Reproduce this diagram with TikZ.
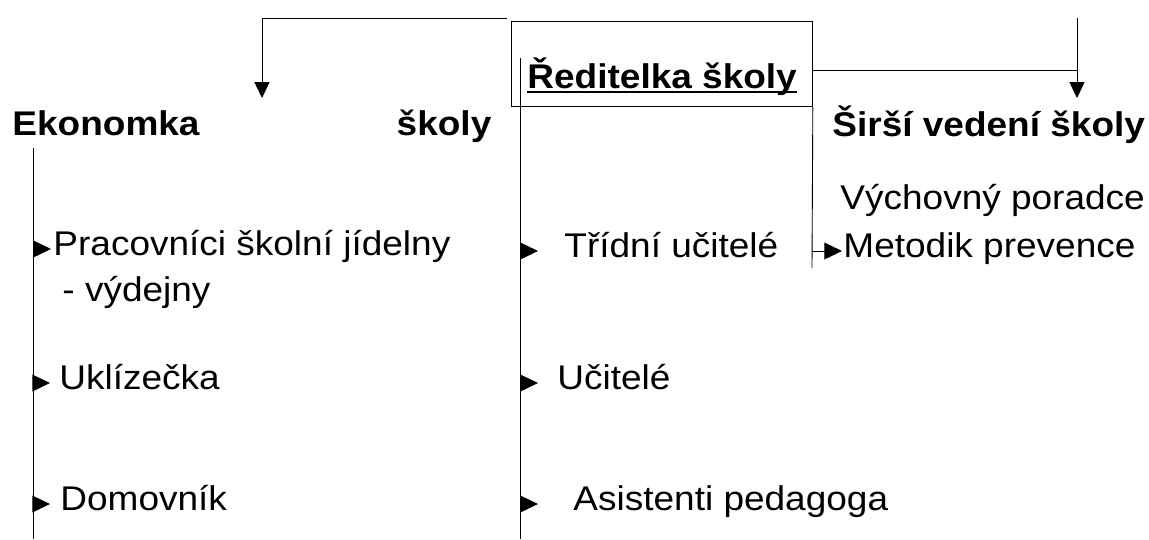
\documentclass[tikz,border=0pt]{standalone}
\usepackage{fontspec}
\setmainfont{Liberation Sans}[FakeStretch=1.08]
\usepackage{tikz}
\usetikzlibrary{arrows.meta}
\usetikzlibrary{calc}
\usetikzlibrary{positioning}

\newcommand{\orgfont}{\fontsize{19.5}{23}\selectfont}

\begin{document}
\begin{tikzpicture}[x=0.02cm,y=-0.02cm,line width=0.5pt,
  every node/.style={inner sep=0pt,font=\orgfont},
  head/.style={font=\orgfont\bfseries,anchor=base west},
  item/.style={anchor=west,text height=0.716em,text depth=0pt},
  tip/.style={-{Triangle[length=9pt,width=8.5pt]}},
  itemtip/.style={-{Triangle[length=10pt,width=9.5pt]}}]
\useasboundingbox (0,0) rectangle (1149,539);

\node[draw,anchor=north west,minimum width=6.02cm,minimum height=1.7cm] (box) at (511,21) {};
\node[head] (reditel) at (527,88) {Ředitelka školy};
\draw[line width=1.1pt] ($(reditel.base west)+(0,4)$) -- ($(reditel.base east)+(0,4)$);

\node[head] (ekonomka) at (12,135) {\makebox[9.58cm]{Ekonomka\hfill školy}};
\node[head] (sirsi) at (832,136) {Širší vedení školy};

\coordinate (lstart) at (507,18);
\coordinate (ekoin) at (262,98);
\draw[tip] (lstart) -| (ekoin);
\coordinate (rtop) at (1077,18);
\coordinate (sirin) at (1077,98);
\draw[tip] (rtop) -- (sirin);
\coordinate (rj) at (1077,70);
\draw (box.east |- rj) -- (rj);

% svisle cary
\coordinate (ltop) at (33,148);
\coordinate (lbot) at (33,539);
\coordinate (mtop) at (520,58);
\coordinate (mbot) at (520,539);
\coordinate (rbot) at (812,268);
\draw (ltop) -- (lbot);
\draw (mtop) -- (mbot);
\draw (box.south east) -- (rbot);

% ekonomka
\coordinate (t1) at (51,249);
\coordinate (t2) at (50,383);
\coordinate (t3) at (50,504);
\node[item,right=0.04cm of t1] (jidelna) {Pracovníci školní jídelny};
\node[anchor=base west] (vydejna) at (62,301) {- výdejny};
\node[item,right=0.18cm of t2] (uklizecka) {Uklízečka};
\node[item,right=0.20cm of t3] (domovnik) {Domovník};
\draw[itemtip] (ltop |- t1) -- (t1);
\draw[itemtip] (ltop |- t2) -- (t2);
\draw[itemtip] (ltop |- t3) -- (t3);

% reditelka
\coordinate (t4) at (538,251);
\coordinate (t5) at (538,383);
\coordinate (t6) at (538,504);
\node[item,right=0.52cm of t4] (tridni) {Třídní učitelé};
\node[item,right=0.38cm of t5] (ucitele) {Učitelé};
\node[item,right=0.70cm of t6] (asistenti) {Asistenti pedagoga};
\draw[itemtip] (mtop |- t4) -- (t4);
\draw[itemtip] (mtop |- t5) -- (t5);
\draw[itemtip] (mtop |- t6) -- (t6);

% sirsi vedeni
\coordinate (t7) at (842,251);
\node[anchor=base west] (poradce) at (840,209) {Výchovný poradce};
\node[item,right=0.02cm of t7] (metodik) {Metodik prevence};
\draw[itemtip] (rbot |- t7) -- (t7);
\end{tikzpicture}
\end{document}
